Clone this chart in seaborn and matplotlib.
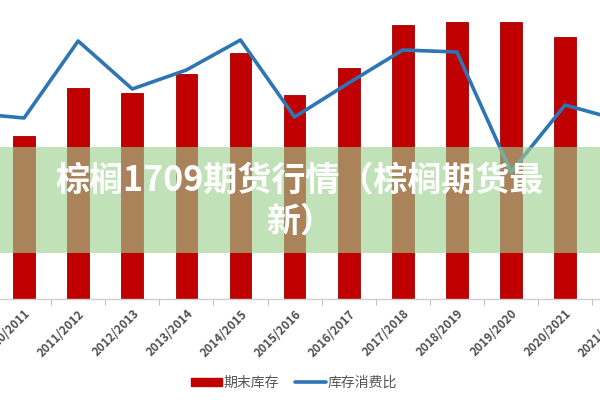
import matplotlib

matplotlib.use("Agg")
import matplotlib.pyplot as plt
import numpy as np
import pandas as pd
import seaborn as sns
from matplotlib.lines import Line2D
from matplotlib.patches import Patch, Rectangle

sns.set_theme(style="white")
plt.rcParams["font.family"] = ["Noto Sans CJK SC", "DejaVu Sans"]

# Данные (шкала условная)
seasons = [
    "2009/2010", "2010/2011", "2011/2012", "2012/2013", "2013/2014",
    "2014/2015", "2015/2016", "2016/2017", "2017/2018", "2018/2019",
    "2019/2020", "2020/2021", "2021/2022",
]
ending_stock = [150, 163, 211, 206, 225, 246, 204, 231, 274, 277, 277, 262, 240]
stock_ratio = [186, 181, 258, 210, 229, 259, 182, 216, 249, 247, 127, 194, 179]

df = pd.DataFrame({"season": seasons, "stock": ending_stock, "ratio": stock_ratio})
pos = np.arange(len(seasons))

fig = plt.figure(figsize=(6, 4), dpi=100)
ax = fig.add_axes([0, 0.2525, 1, 0.7475])

sns.barplot(
    data=df, x="season", y="stock", color="#c00000", width=0.4,
    edgecolor="#a00000", linewidth=0.6, saturation=1, ax=ax,
)

ax2 = ax.twinx()
sns.lineplot(x=pos, y=df["ratio"], color="#2e75b6", linewidth=2.6, ax=ax2)

for a in (ax, ax2):
    for s in ["top", "left", "right"]:
        a.spines[s].set_visible(False)
    a.set_yticks([])
    a.set_ylabel("")
    a.set_ylim(0, 299)
ax2.spines["bottom"].set_visible(False)
ax.spines["bottom"].set_color("#d0d0d0")
ax.spines["bottom"].set_linewidth(1)

label_style = dict(rotation=45, ha="right", rotation_mode="anchor",
                   fontsize=8.5, color="#505050", fontweight="bold")
ax.set_xlabel("")
ax.set_xticks(pos)
ax.set_xticklabels(seasons, **label_style)
ax.set_xticks(pos + 0.5, minor=True)
ax.tick_params(axis="x", which="major", length=0, pad=6)
ax.tick_params(axis="x", which="minor", length=4, color="#c0c0c0", width=0.8,
               direction="out", bottom=True)

# видимая часть графика обрезана по краям
ax.set_xlim(0.555, 11.645)
ax2.set_xlim(0.555, 11.645)

# подпись последней категории, тик которой вне видимой области
ax.annotate(seasons[-1], xy=(pos[-1], 0), xycoords=ax.get_xaxis_transform(),
            xytext=(0, -6), textcoords="offset points", va="top",
            annotation_clip=False, **label_style)

# Легенда
handles = [
    Patch(facecolor="#c00000", edgecolor="#c00000"),
    Line2D([0], [0], color="#2e75b6", linewidth=2.6),
]
fig.legend(handles, ["期末库存", "库存消费比"], loc="center",
           bbox_to_anchor=(0.49, 0.043), ncol=2, frameon=False,
           fontsize=10, labelcolor="#555555", handlelength=2.2,
           handleheight=0.5, handletextpad=0.1, columnspacing=1.2)

# Баннер с заголовком
fig.add_artist(Rectangle((0, 0.3675), 1, 0.265, transform=fig.transFigure,
                         facecolor=(0.62, 0.82, 0.57), alpha=0.63,
                         edgecolor="none", zorder=10))
fig.text(0.5, 0.55, "棕榈1709期货行情（棕榈期货最", ha="center", va="center",
         fontsize=24.5, fontweight="bold", color="white", zorder=11)
fig.text(0.5, 0.448, "新）", ha="center", va="center",
         fontsize=24.5, fontweight="bold", color="white", zorder=11)

fig.savefig("out.png", dpi=100)
